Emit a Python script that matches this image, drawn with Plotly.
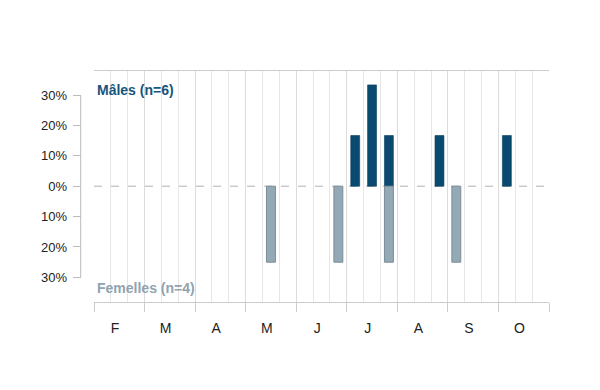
import plotly.graph_objects as go

# ---- data ----
months = ["F", "M", "A", "M", "J", "J", "A", "S", "O"]
periods_per_month = 3  # décades
males_counts = [0, 0, 0, 0, 0, 0, 0, 0, 0,
                0, 0, 0, 0, 0, 0, 1, 2, 1,
                0, 0, 1, 0, 0, 0, 1, 0, 0]
females_counts = [0, 0, 0, 0, 0, 0, 0, 0, 0,
                  0, 1, 0, 0, 0, 1, 0, 0, 1,
                  0, 0, 0, 1, 0, 0, 0, 0, 0]
n_males = 6
n_females = 4
ytick_vals = [-30, -20, -10, 0, 10, 20, 30]
ytick_text = ["30%", "20%", "10%", "0%", "10%", "20%", "30%"]

# ---- derived ----
n_slots = len(months) * periods_per_month
mx = [i + 0.5 for i, c in enumerate(males_counts) if c > 0]
my = [c / n_males * 100 for c in males_counts if c > 0]
fx = [i + 0.5 for i, c in enumerate(females_counts) if c > 0]
fy = [-c / n_females * 100 for c in females_counts if c > 0]
month_bounds = [i * periods_per_month for i in range(len(months) + 1)]
month_centers = [i * periods_per_month + periods_per_month / 2 - 0.25 for i in range(len(months))]

W, H = 600, 390
x0px, x1px = 94, 549
ytop, ybot = 70.7, 301.7
yaxis_px = 80.7

FONT = "Liberation Sans, Arial, sans-serif"
male_col = "#0b4a70"
fem_col = "#93a9b6"

fig = go.Figure()
fig.add_trace(go.Bar(x=mx, y=my, width=0.53,
                     marker=dict(color=male_col, line=dict(color="#083d5e", width=0.6)),
                     showlegend=False, hoverinfo="skip"))
fig.add_trace(go.Bar(x=fx, y=fy, width=0.53,
                     marker=dict(color=fem_col, line=dict(color="#7b8d98", width=1)),
                     showlegend=False, hoverinfo="skip"))

fig.update_layout(
    width=W, height=H,
    margin=dict(l=0, r=0, t=0, b=0),
    paper_bgcolor="white", plot_bgcolor="white",
    barmode="overlay",
    font=dict(family=FONT, size=13, color="#222222"),
    xaxis=dict(
        domain=[x0px / W, x1px / W],
        range=[0, n_slots],
        tickmode="array", tickvals=month_bounds,
        showticklabels=False,
        ticks="outside", ticklen=9, tickcolor="#cccccc", tickwidth=1,
        showgrid=True, gridcolor="#dcdcdc", gridwidth=1,
        minor=dict(dtick=1, tick0=0, showgrid=True, gridcolor="#e6e6e6", gridwidth=1, ticks=""),
        showline=True, linecolor="#cccccc", linewidth=1, mirror=True,
        zeroline=False, fixedrange=True,
    ),
    xaxis2=dict(
        overlaying="x", anchor="y", side="bottom",
        range=[0, n_slots],
        tickmode="array", tickvals=month_centers, ticktext=months,
        ticks="", showgrid=False, showline=False, zeroline=False,
        ticklabelstandoff=16,
        tickfont=dict(family=FONT, size=14, color="#222222"),
        fixedrange=True,
    ),
    yaxis=dict(
        domain=[(H - ybot) / H, (H - ytop) / H],
        range=[-38, 38],
        anchor="free", position=yaxis_px / W,
        tickmode="array", tickvals=ytick_vals, ticktext=ytick_text,
        ticks="outside", ticklen=8, tickcolor="#bbbbbb",
        showgrid=False, zeroline=False, showline=False,
        tickfont=dict(family=FONT, size=13, color="#222222"),
        ticklabelstandoff=3,
        fixedrange=True,
    ),
    shapes=[
        dict(type="line", xref="x", yref="y", x0=0, x1=n_slots, y0=0, y1=0,
             line=dict(color="#b0b0b0", width=1, dash="8px,9px"), layer="below"),
        dict(type="line", xref="paper", yref="y", x0=yaxis_px / W, x1=yaxis_px / W,
             y0=min(ytick_vals), y1=max(ytick_vals),
             line=dict(color="#bbbbbb", width=1)),
    ],
    annotations=[
        dict(text="<b>Mâles (n=%d)</b>" % n_males, xref="x", yref="y domain",
             x=0, y=0.9186, xanchor="left", yanchor="middle", xshift=1, showarrow=False,
             font=dict(family=FONT, size=14, color="#17557d")),
        dict(text="<b>Femelles (n=%d)</b>" % n_females, xref="x", yref="y domain",
             x=0, y=0.059, xanchor="left", yanchor="middle", xshift=1, showarrow=False,
             font=dict(family=FONT, size=14, color="#8fa3b0")),
    ],
)
# invisible trace attached to xaxis2 so its labels render
fig.add_trace(go.Scatter(x=[0], y=[0], xaxis="x2", yaxis="y", mode="markers",
                         marker=dict(opacity=0), showlegend=False, hoverinfo="skip"))

fig.write_html("out.html")
